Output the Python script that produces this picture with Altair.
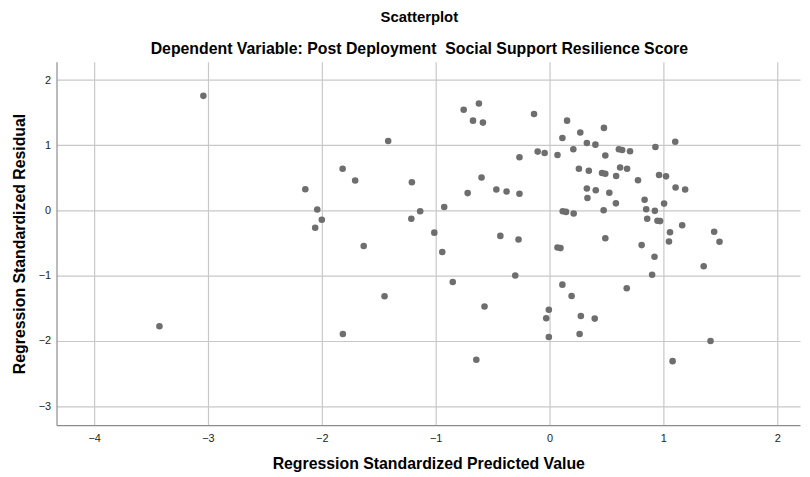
import altair as alt
import pandas as pd

pred = [
    -3.426, -3.04,
    -2.145, -2.04, -2.0, -2.058,
    -1.817, -1.707, -1.815, -1.632, -1.449, -1.417,
    -1.209, -1.214, -1.136, -1.012, -0.925, -0.942, -0.85,
    -0.754, -0.62, -0.672, -0.585, -0.597, -0.719, -0.643, -0.571,
    -0.467, -0.377, -0.432, -0.264, -0.272, -0.264, -0.301,
    -0.136, -0.104, -0.043, -0.006, -0.029, -0.006,
    0.07, 0.096, 0.07, 0.154, 0.27, 0.478, 0.113, 0.328, 0.403, 0.209,
    0.49, 0.609, 0.638, 0.707, 0.93, 1.104,
    0.258, 0.345, 0.461, 0.49, 0.62, 0.681, 0.585, 0.777, 0.962, 1.023,
    0.328, 0.406, 0.525, 0.333, 1.107, 1.191, 0.835, 0.583, 1.006,
    0.849, 0.925, 0.475, 0.116, 0.145, 0.212,
    0.858, 0.948, 0.971, 1.058, 1.165, 1.446, 1.493, 1.049, 0.49, 0.809,
    0.922, 1.354, 0.901, 0.113, 0.678, 0.194, 0.275, 0.397, 0.264,
    1.414, 1.081,
]
resid = [
    -1.773, 1.758,
    0.327, 0.015, -0.142, -0.263,
    0.641, 0.459, -1.894, -0.545, -1.314, 1.065,
    0.434, -0.127, -0.011, -0.339, 0.055, -0.636, -1.097,
    1.545, 1.64, 1.378, 1.348, 0.505, 0.267, -2.288, -1.47,
    0.323, 0.292, -0.389, 0.257, -0.445, 0.818, -0.995,
    1.479, 0.903, 0.883, -1.52, -1.652, -1.94,
    0.85, -0.576, -0.566, 1.378, 1.197, 1.267, 1.111, 1.035, 1.01, 0.939,
    0.843, 0.939, 0.929, 0.909, 0.974, 1.055,
    0.641, 0.611, 0.576, 0.565, 0.661, 0.641, 0.53, 0.464, 0.545, 0.524,
    0.338, 0.312, 0.273, 0.191, 0.353, 0.323, 0.166, 0.11, 0.106,
    0.02, -0.005, 0.005, -0.011, -0.021, -0.046,
    -0.127, -0.157, -0.162, -0.333, -0.227, -0.324, -0.48, -0.475, -0.424, -0.53,
    -0.708, -0.854, -0.985, -1.136, -1.192, -1.309, -1.617, -1.657, -1.894,
    -2.0, -2.309,
]

x_ticks = [-4, -3, -2, -1, 0, 1, 2]
y_ticks = [-3, -2, -1, 0, 1, 2]

df = pd.DataFrame({"pred": pred, "resid": resid})

FONT = "Liberation Sans"

chart = alt.Chart(df).mark_circle(size=44, color="#6e6e6e", opacity=1).encode(
    x=alt.X("pred:Q",
            scale=alt.Scale(domain=[-4.33, 2.2], nice=False, zero=False),
            axis=alt.Axis(title="Regression Standardized Predicted Value", values=x_ticks,
                          format="d", ticks=False, labelPadding=8, titlePadding=12)),
    y=alt.Y("resid:Q",
            scale=alt.Scale(domain=[-3.29, 2.28], nice=False, zero=False),
            axis=alt.Axis(title="Regression Standardized Residual", values=y_ticks,
                          format="d", ticks=False, labelPadding=6, titlePadding=11)),
).properties(
    width=751,
    height=367,
    title=alt.TitleParams(
        text="Scatterplot",
        subtitle="Dependent Variable: Post Deployment\u00a0 Social Support Resilience Score",
        anchor="middle", dx=-9,
        font=FONT, fontSize=15, fontWeight="bold", color="#000000",
        subtitleFont=FONT, subtitleFontSize=16, subtitleFontWeight="bold",
        subtitleColor="#000000", subtitlePadding=16, offset=5,
    ),
    autosize=alt.AutoSizeParams(type="none"),
    padding={"left": 49, "top": 52, "right": 2, "bottom": 46},
).configure_view(
    stroke=None
).configure_axis(
    labelFont=FONT, labelFontSize=11, labelColor="#222222",
    titleFont=FONT, titleFontSize=16, titleFontWeight="bold", titleColor="#000000",
    gridColor="#c8c8c8", gridWidth=1.2, domainColor="#8c8c8c", domainWidth=1.2,
)

chart.save("out.html", embed_options={"renderer": "svg", "actions": False})
